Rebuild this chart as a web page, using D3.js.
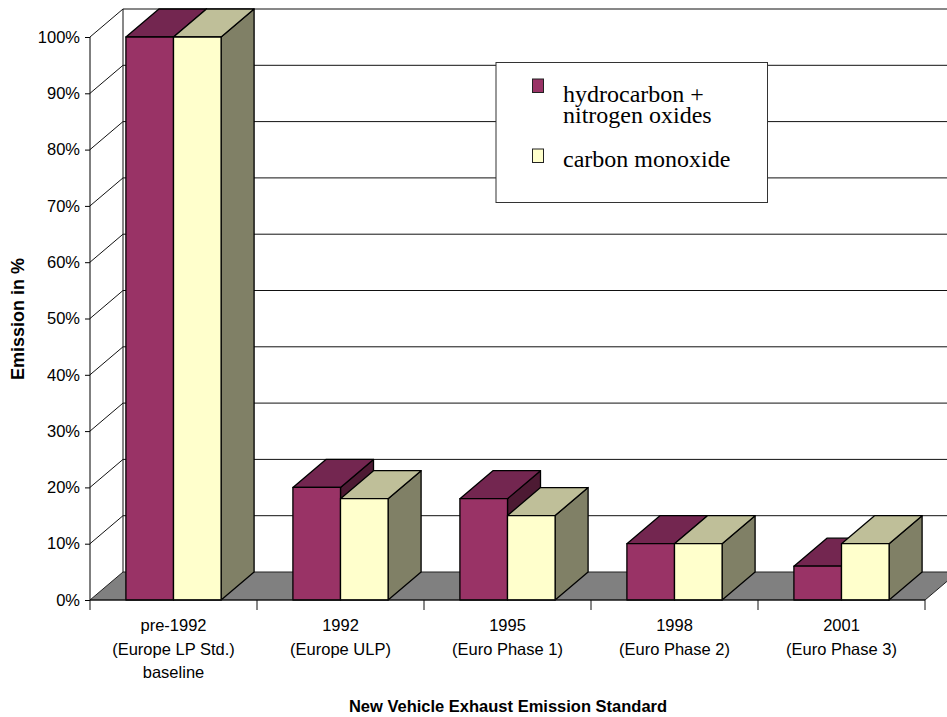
<!DOCTYPE html>
<html>
<head>
<meta charset="utf-8">
<script src="https://d3js.org/d3.v7.min.js"></script>
<style>
	body { margin: 0; background: white; }
	svg { display: block; }
	.tick text, .cat { font-family: "Liberation Sans", sans-serif; font-size: 16.5px; fill: #000; }
	.title { font-family: "Liberation Sans", sans-serif; font-size: 16.5px; font-weight: bold; fill: #000; }
	.legend-text { font-family: "Liberation Serif", serif; font-size: 24px; fill: #000; }
	.grid { stroke: #111; stroke-width: 1px; fill: none; }
	.face { stroke: #000; stroke-width: 1.3px; stroke-linejoin: round; }
</style>
</head>
<body>
<script>
var categories = ["pre-1992", "1992", "1995", "1998", "2001"]
var categoryLabels = [
	["pre-1992", "(Europe LP Std.)", "baseline"],
	["1992", "(Europe ULP)"],
	["1995", "(Euro Phase 1)"],
	["1998", "(Euro Phase 2)"],
	["2001", "(Euro Phase 3)"]
]
var seriesNames = ["hydrocarbon + nitrogen oxides", "carbon monoxide"]
var hydrocarbon = [100, 20, 18, 10, 6]
var carbonMonoxide = [100, 18, 15, 10, 10]
var yTicks = [0, 10, 20, 30, 40, 50, 60, 70, 80, 90, 100]

var seriesValues = [hydrocarbon, carbonMonoxide]
var seriesColors = [
	{front: "#993366", top: "#732650", side: "#4d1a33"},
	{front: "#ffffcc", top: "#bfbf99", side: "#808066"}
]

var width = 947,
	height = 717,
	depthX = 33,
	depthY = -28

var svg = d3.select("body").append("svg")
	.attr("width", width)
	.attr("height", height)

var y = d3.scaleLinear().domain([0, 100]).range([600, 37])
var x = d3.scaleBand().domain(categories).range([90, 925]).paddingInner(0.43).paddingOuter(0.215)
var xSeries = d3.scaleBand().domain([0, 1]).range([0, x.bandwidth()])

function poly(points) {
	return points.map(function(p) { return p.join(",") }).join(" ")
}

// floor
svg.append("polygon")
	.attr("points", poly([[90, y(0)], [925, y(0)], [925 + depthX, y(0) + depthY], [90 + depthX, y(0) + depthY]]))
	.attr("fill", "#808080")
	.attr("stroke", "#222")

// back wall gridlines and the diagonals on the side wall
svg.selectAll("line.back")
	.data(yTicks.slice(1))
	.enter().append("line")
	.attr("class", "grid back")
	.attr("x1", 90 + depthX).attr("x2", width + 20)
	.attr("y1", function(d) { return y(d) + depthY })
	.attr("y2", function(d) { return y(d) + depthY })

svg.selectAll("line.side")
	.data(yTicks.slice(1))
	.enter().append("line")
	.attr("class", "grid side")
	.attr("x1", 90).attr("x2", 90 + depthX)
	.attr("y1", function(d) { return y(d) })
	.attr("y2", function(d) { return y(d) + depthY })

svg.append("line").attr("class", "grid")
	.attr("x1", 90 + depthX).attr("x2", 90 + depthX)
	.attr("y1", y(100) + depthY).attr("y2", y(0) + depthY)

// bars, yellow after purple so its top covers the purple side
categories.forEach(function(cat, i) {
	seriesValues.forEach(function(vals, s) {
		var x0 = x(cat) + xSeries(s),
			x1 = x0 + xSeries.bandwidth(),
			top = y(vals[i]),
			base = y(0),
			c = seriesColors[s],
			g = svg.append("g")
		g.append("polygon").attr("class", "face").attr("fill", c.side)
			.attr("points", poly([[x1, top], [x1 + depthX, top + depthY], [x1 + depthX, base + depthY], [x1, base]]))
		g.append("polygon").attr("class", "face").attr("fill", c.top)
			.attr("points", poly([[x0, top], [x0 + depthX, top + depthY], [x1 + depthX, top + depthY], [x1, top]]))
		g.append("rect").attr("class", "face").attr("fill", c.front)
			.attr("x", x0).attr("y", top)
			.attr("width", x1 - x0).attr("height", base - top)
	})
})

// axes
var yAxis = d3.axisLeft(y).tickValues(yTicks).tickSize(5).tickPadding(5)
	.tickFormat(function(d) { return d + "%" })
svg.append("g")
	.attr("transform", "translate(90,0)")
	.call(yAxis)
	.call(function(g) {
		g.attr("font-family", null).attr("font-size", null)
		g.selectAll("line").attr("stroke", "#000")
		g.select(".domain").attr("stroke", "#000").attr("d", "M0," + y(100) + "V" + y(0))
	})

svg.append("line").attr("class", "grid")
	.attr("x1", 90).attr("x2", 925).attr("y1", y(0)).attr("y2", y(0))

// x ticks sit on the band edges
var xEdges = categories.map(function(c) { return x(c) - x.step() * 0.215 }).concat([925])
svg.selectAll("line.xtick")
	.data(xEdges)
	.enter().append("line")
	.attr("class", "grid xtick")
	.attr("x1", function(d) { return d }).attr("x2", function(d) { return d })
	.attr("y1", y(0)).attr("y2", y(0) + 10)

var cats = svg.selectAll("text.cat")
	.data(categoryLabels)
	.enter().append("text")
	.attr("class", "cat")
	.attr("text-anchor", "middle")
	.attr("x", function(d, i) { return x(categories[i]) + x.bandwidth() / 2 })
	.attr("y", 631)
cats.selectAll("tspan")
	.data(function(d) { return d })
	.enter().append("tspan")
	.attr("x", function() { return d3.select(this.parentNode).attr("x") })
	.attr("y", function(d, i) { return 631 + i * 23.5 })
	.text(function(d) { return d })

// axis titles
svg.append("text").attr("class", "title")
	.attr("text-anchor", "middle")
	.attr("x", 508).attr("y", 712)
	.text("New Vehicle Exhaust Emission Standard")
svg.append("text").attr("class", "title")
	.attr("text-anchor", "middle")
	.style("font-size", "18px")
	.attr("transform", "translate(24,319) rotate(-90)")
	.text("Emission in %")

// legend
svg.append("rect")
	.attr("x", 496).attr("y", 62.5)
	.attr("width", 271.5).attr("height", 140)
	.attr("fill", "white").attr("stroke", "#333").attr("stroke-width", 1)

var legendRows = [
	{swatchY: 79, lines: [["hydrocarbon +", 102], ["nitrogen oxides", 123]]},
	{swatchY: 149, lines: [["carbon monoxide", 167]]}
]
legendRows.forEach(function(row, s) {
	svg.append("rect")
		.attr("x", 532.5).attr("y", row.swatchY)
		.attr("width", 11).attr("height", 13.5)
		.attr("fill", seriesColors[s].front)
		.attr("stroke", "#222").attr("stroke-width", 1)
	// one text per entry, the two lines of the first are set tight as in the original
	var t = svg.append("text").attr("class", "legend-text")
	row.lines.forEach(function(l) {
		t.append("tspan")
			.attr("x", 563).attr("y", l[1])
			.text(l[0])
	})
})
</script>
</body>
</html>
